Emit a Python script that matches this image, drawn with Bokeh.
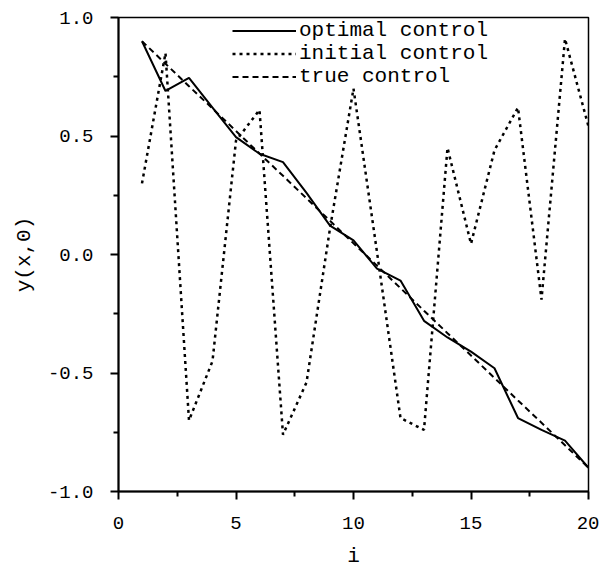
from bokeh.plotting import figure
from bokeh.models import FixedTicker, Legend, LegendItem, Range1d
from bokeh.embed import file_html
from bokeh.resources import INLINE

steps = list(range(1, 21))
optimal_control = [0.90, 0.69, 0.745, 0.62, 0.495, 0.425, 0.39, 0.26, 0.122, 0.06,
                   -0.06, -0.11, -0.28, -0.35, -0.41, -0.48, -0.69, -0.74, -0.785, -0.90]
initial_control = [0.30, 0.85, -0.70, -0.45, 0.48, 0.61, -0.76, -0.54, 0.11, 0.70,
                   0.01, -0.69, -0.74, 0.45, 0.045, 0.44, 0.62, -0.19, 0.91, 0.54]
true_control = [0.90, 0.805, 0.71, 0.616, 0.521, 0.426, 0.332, 0.237, 0.142, 0.047,
                -0.047, -0.142, -0.237, -0.332, -0.426, -0.521, -0.616, -0.71, -0.805, -0.90]

x_ticks = [0, 5, 10, 15, 20]
x_minor = [2.5, 7.5, 12.5, 17.5]
y_ticks = [-1.0, -0.5, 0.0, 0.5, 1.0]
y_minor = [-0.75, -0.25, 0.25, 0.75]
y_labels = {-1.0: "-1.0", -0.5: "-0.5", 0.0: "0.0", 0.5: "0.5", 1.0: "1.0"}

FONT = "Liberation Mono"

p = figure(width=599, height=566, output_backend="svg", toolbar_location=None,
           x_range=Range1d(0, 20), y_range=Range1d(-1.0, 1.0),
           min_border_left=118, min_border_right=11, min_border_top=17, min_border_bottom=75)
p.frame_width = 470
p.frame_height = 474
p.grid.visible = False
p.outline_line_color = "black"
p.outline_line_width = 1.5
p.background_fill_color = "white"
p.border_fill_color = "white"

r_opt = p.line(steps, optimal_control, line_color="black", line_width=2)
r_init = p.line(steps, initial_control, line_color="black", line_width=2.5, line_dash="3 4")
r_true = p.line(steps, true_control, line_color="black", line_width=2, line_dash="6 4")

for ax in (p.xaxis[0], p.yaxis[0]):
    ax.axis_line_width = 2
    ax.major_tick_line_width = 2
    ax.minor_tick_line_width = 2
    ax.major_tick_out = 8
    ax.major_tick_in = 0
    ax.minor_tick_out = 5
    ax.minor_tick_in = 0
    ax.major_label_text_font = FONT
    ax.major_label_text_font_size = "19px"
    ax.major_label_text_color = "black"
    ax.axis_label_text_font = FONT
    ax.axis_label_text_font_size = "21px"
    ax.axis_label_text_font_style = "normal"
    ax.axis_label_text_color = "black"

p.xaxis.ticker = FixedTicker(ticks=x_ticks, minor_ticks=x_minor)
p.yaxis.ticker = FixedTicker(ticks=y_ticks, minor_ticks=y_minor)
p.yaxis.major_label_overrides = y_labels
p.xaxis.axis_label = "i"
p.yaxis.axis_label = "y(x,0)"
p.xaxis.major_label_standoff = 17
p.yaxis.major_label_standoff = 17
p.xaxis.axis_label_standoff = 13
p.yaxis.axis_label_standoff = 9

legend = Legend(items=[LegendItem(label="optimal control", renderers=[r_opt]),
                       LegendItem(label="initial control", renderers=[r_init]),
                       LegendItem(label="true control", renderers=[r_true])],
                location=(114, 403))
legend.border_line_color = None
legend.background_fill_alpha = 0
legend.padding = 0
legend.spacing = 0
legend.margin = 0
legend.glyph_width = 64
legend.glyph_height = 23
legend.label_height = 23
legend.label_standoff = 3
legend.label_text_font = FONT
legend.label_text_font_size = "21px"
legend.label_text_color = "black"
p.add_layout(legend, "center")

open("out.html", "w").write(file_html(p, INLINE))
